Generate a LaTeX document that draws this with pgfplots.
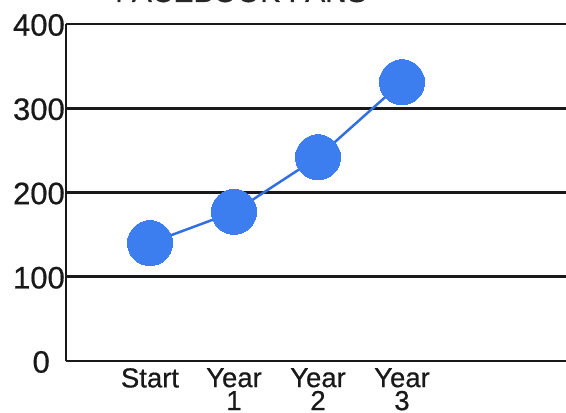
\documentclass[border=0pt]{standalone}
\usepackage{pgfplots}
\pgfplotsset{compat=1.18}
\usepackage{fontspec}
\setmainfont{Liberation Sans}[FakeBold=0.6]
\definecolor{dotblue}{RGB}{60,126,240}
\definecolor{lineblue}{RGB}{50,112,225}
\begin{document}
\begin{tikzpicture}
\useasboundingbox (0pt,0pt) rectangle (566pt,413pt);
\node[anchor=base, font=\fontsize{30}{36}\selectfont, text=black!85] at (241pt,411pt) {FACEBOOK FANS};
\begin{axis}[
  at={(66pt,52pt)}, anchor=south west,
  scale only axis, width=504pt, height=337pt,
  xmin=-1, xmax=5, ymin=0, ymax=400,
  clip=false,
  axis x line*=bottom, axis y line*=left,
  axis line style={line width=2.6pt, black!90},
  ymajorgrids, grid style={line width=2.6pt, black!90},
  major tick length=0pt,
  ytick={0,100,200,300,400},
  yticklabels={{0\kern15pt},100,200,300,400},
  xtick={0,1,2,3},
  xticklabels={Start,{Year\\1},{Year\\2},{Year\\3}},
  /pgf/number format/assume math mode=true,
  yticklabel style={font=\fontsize{31}{34}\selectfont, text=black!90, anchor=east, inner sep=0pt, xshift=-1pt, yshift=-1pt},
  xticklabel style={font=\fontsize{27.5}{23}\selectfont, text=black!90, align=center, anchor=north, inner sep=0pt, yshift=-7pt},
]
\addplot[color=lineblue, line width=2.5pt, mark=*, mark size=22.5pt, mark options={fill=dotblue, draw=dotblue, line width=0pt}]
  coordinates {(0,140) (1,177) (2,242) (3,331)};
\end{axis}
\end{tikzpicture}
\end{document}
